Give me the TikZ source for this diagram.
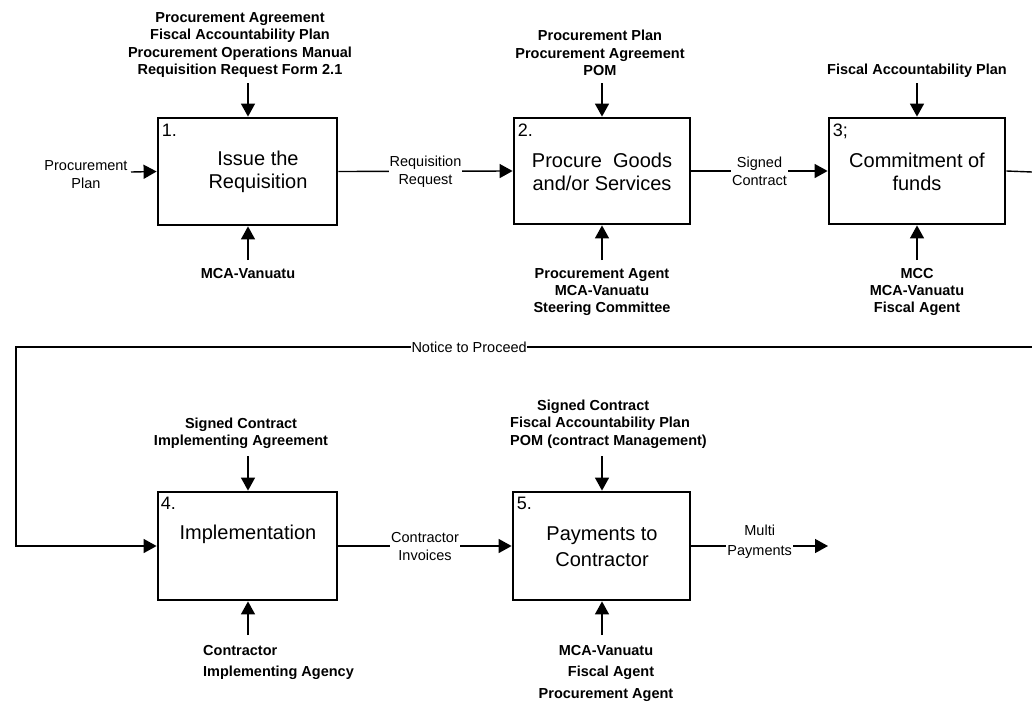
\documentclass[tikz,border=0pt]{standalone}
\usepackage{fontspec}
\setmainfont{Liberation Sans}
\usetikzlibrary{arrows.meta}
\begin{document}
\begin{tikzpicture}[x=1pt,y=-1pt,
  box/.style={draw, line width=2.8pt, inner sep=0pt},
  ttl/.style={font=\fontsize{20}{23}\selectfont, align=center, inner sep=0pt},
  num/.style={font=\fontsize{18}{20}\selectfont, anchor=north west, inner sep=0pt},
  lbl/.style={font=\bfseries\fontsize{14.5}{17.3}\selectfont, align=center, inner sep=0pt},
  sm/.style={font=\fontsize{14.5}{18}\selectfont, align=center, inner sep=1pt},
  conn/.style={line width=1.4pt},
  arr/.style={conn, -{Triangle[length=13pt,width=14pt]}}]
\useasboundingbox (0,0) rectangle (1032,704);

% boxes
\node[box, minimum width=179pt, minimum height=107pt] (b1) at (247.5,171.5) {};
\node[box, minimum width=176pt, minimum height=106pt] (b2) at (602,171) {};
\node[box, minimum width=176pt, minimum height=106pt] (b3) at (917,171) {};
\node[box, minimum width=179pt, minimum height=108pt] (b4) at (247.5,546) {};
\node[box, minimum width=177pt, minimum height=108pt] (b5) at (601.5,546) {};

% numbers
\node[num] (n1) at ([xshift=5pt,yshift=-7pt]b1.north west) {1.};
\node[num] (n2) at ([xshift=5pt,yshift=-7pt]b2.north west) {2.};
\node[num] (n3) at ([xshift=5pt,yshift=-7pt]b3.north west) {3;};
\node[num] (n4) at ([xshift=4pt,yshift=-6pt]b4.north west) {4.};
\node[num] (n5) at ([xshift=5pt,yshift=-6pt]b5.north west) {5.};

% titles
\node[ttl] (t1) at (258,172) {Issue the\\Requisition};
\node[ttl] (t2) at (602,172) {Procure\ \ Goods\\and/or Services};
\node[ttl] (t3) at (917,172) {Commitment of\\funds};
\node[ttl] (t4) at (248,534) {Implementation};
\node[ttl, font=\fontsize{20}{26}\selectfont] (t5) at (602,547) {Payments to\\Contractor};

% top inputs
\node[lbl] (top1) at (240,45) {Procurement Agreement\\Fiscal Accountability Plan\\Procurement Operations Manual\\Requisition Request Form 2.1};
\node[lbl] (top2) at (600,53) {Procurement Plan\\Procurement Agreement\\POM};
\node[lbl] (top3) at (917,71) {Fiscal Accountability Plan};
\node[lbl] (top4) at (241,433) {Signed Contract\\Implementing Agreement};
\node[lbl, align=left, anchor=west] (top5) at (510,424) {\hspace*{27pt}Signed Contract\\Fiscal Accountability Plan\\POM (contract Management)};

\coordinate (i1) at (248,83);
\coordinate (i2) at (602,83);
\coordinate (i3) at (917,83);
\coordinate (i4) at (248,456);
\coordinate (i5) at (602,456);
\draw[arr] (i1) -- (i1 |- b1.north);
\draw[arr] (i2) -- (i2 |- b2.north);
\draw[arr] (i3) -- (i3 |- b3.north);
\draw[arr] (i4) -- (i4 |- b4.north);
\draw[arr] (i5) -- (i5 |- b5.north);

% bottom mechanisms
\node[lbl] (bot1) at (248,274) {MCA-Vanuatu};
\node[lbl] (bot2) at (602,292) {Procurement Agent\\MCA-Vanuatu\\Steering Committee};
\node[lbl] (bot3) at (917,292) {MCC\\MCA-Vanuatu\\Fiscal Agent};
\node[lbl, align=left, anchor=west, font=\bfseries\fontsize{14.5}{21}\selectfont] (bot4) at (203,662) {Contractor\\Implementing Agency};
\node[lbl, font=\bfseries\fontsize{14.5}{21.5}\selectfont] (bot5) at (606,673) {MCA-Vanuatu\\\hspace*{10pt}Fiscal Agent\\Procurement Agent};

\coordinate (m1) at (248,260);
\coordinate (m2) at (602,260);
\coordinate (m3) at (917,260);
\coordinate (m4) at (248,635);
\coordinate (m5) at (602,635);
\draw[arr] (m1) -- (m1 |- b1.south);
\draw[arr] (m2) -- (m2 |- b2.south);
\draw[arr] (m3) -- (m3 |- b3.south);
\draw[arr] (m4) -- (m4 |- b4.south);
\draw[arr] (m5) -- (m5 |- b5.south);

% left input of box 1
\node[sm, inner sep=0pt] (pp) at (86,175) {Procurement\\Plan};
\coordinate (ppa) at (131,172);
\draw[arr] (ppa) -- (b1.west);

% flows
\draw[arr] (b1.east) -- node[sm, fill=white] (rr) {Requisition\\Request} (b2.west);
\draw[arr] (b2.east) -- node[sm, fill=white] (sc) {Signed\\Contract} (b3.west);
\coordinate (o3) at (1032,172);
\draw[conn] (b3.east) -- (o3);
\draw[arr] (b4.east) -- node[sm, fill=white] (ci) {Contractor\\Invoices} (b5.west);
\coordinate (mp) at (828,546);
\draw[arr] (b5.east) -- node[sm, fill=white, pos=0.5, yshift=4pt, font=\fontsize{14.5}{20}\selectfont] (mpl) {Multi\\Payments} (mp);

% notice to proceed
\coordinate (npr) at (1032,347);
\coordinate (npl) at (16,347);
\coordinate (npd) at (16,546);
\draw[arr] (npr) -- node[sm, fill=white, pos=0.554, inner sep=0.5pt] (ntp) {Notice to Proceed} (npl) -- (npd) -- (b4.west);
\end{tikzpicture}
\end{document}
